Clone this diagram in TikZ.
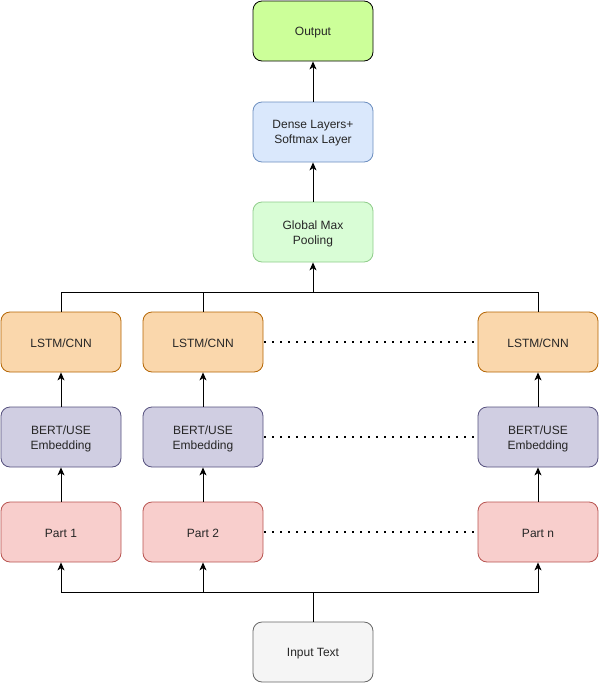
\documentclass[tikz,border=0pt]{standalone}
\usepackage{fontspec}
\setmainfont{Liberation Sans}
\usetikzlibrary{arrows.meta}
\definecolor{outF}{HTML}{CCFF99}
\definecolor{denseF}{HTML}{DAE8FC}\definecolor{denseD}{HTML}{6C8EBF}
\definecolor{poolF}{HTML}{D9FDD6}\definecolor{poolD}{HTML}{8FCC8A}
\definecolor{lstmF}{HTML}{FAD7AC}\definecolor{lstmD}{HTML}{B46504}
\definecolor{bertF}{HTML}{D0CEE2}\definecolor{bertD}{HTML}{56517E}
\definecolor{partF}{HTML}{F8CECC}\definecolor{partD}{HTML}{B85450}
\definecolor{inF}{HTML}{F5F5F5}\definecolor{inD}{HTML}{666666}
\begin{document}
\begin{tikzpicture}[x=1pt,y=-1pt,
  tl/.style={yshift=-1.5pt, align=center, inner sep=0pt, text=black!85,
    font=\fontsize{12pt}{15pt}\selectfont},
  box/.style={rounded corners=9pt, minimum width=120pt, minimum height=60pt,
    inner sep=0pt, line width=0.8pt},
  outbox/.style={box, fill=outF, draw=black},
  densebox/.style={box, fill=denseF, draw=denseD},
  poolbox/.style={box, fill=poolF, draw=poolD},
  lstmbox/.style={box, fill=lstmF, draw=lstmD},
  bertbox/.style={box, fill=bertF, draw=bertD},
  partbox/.style={box, fill=partF, draw=partD},
  inbox/.style={box, fill=inF, draw=inD},
  arr/.style={line width=0.9pt, -{Stealth[length=8pt,width=7pt,inset=2.2pt]}},
  ln/.style={line width=0.9pt},
  dots/.style={line width=2pt, dash pattern=on 2pt off 6pt}]
\useasboundingbox (0,0) rectangle (599,683);

\node[outbox, label={[tl]center:Output}]   (out)   at (313,31)  {};
\node[densebox, label={[tl]center:Dense Layers+\\Softmax Layer}] (dense) at (313,132) {};
\node[poolbox, label={[tl]center:Global Max\\Pooling}]  (pool)  at (313,232) {};

\node[lstmbox, label={[tl]center:LSTM/CNN}] (l1) at (61,342)  {};
\node[lstmbox, label={[tl]center:LSTM/CNN}] (l2) at (203,342) {};
\node[lstmbox, label={[tl]center:LSTM/CNN}] (l3) at (538,342) {};

\node[bertbox, label={[tl]center:BERT/USE\\Embedding}] (b1) at (61,437)  {};
\node[bertbox, label={[tl]center:BERT/USE\\Embedding}] (b2) at (203,437) {};
\node[bertbox, label={[tl]center:BERT/USE\\Embedding}] (b3) at (538,437) {};

\node[partbox, label={[tl]center:Part 1}] (p1) at (61,532)  {};
\node[partbox, label={[tl]center:Part 2}] (p2) at (203,532) {};
\node[partbox, label={[tl]center:Part n}] (p3) at (538,532) {};

\node[inbox, label={[tl]center:Input Text}] (in) at (313,652) {};

\coordinate (topbus) at (313,292);
\coordinate (botbus) at (313,592);

\draw[arr] (dense) -- (out);
\draw[arr] (pool) -- (dense);

\draw[ln] (l1.north) |- (topbus);
\draw[ln] (l2.north) |- (topbus);
\draw[ln] (l3.north) |- (topbus);
\draw[arr] (topbus) -- (pool.south);

\draw[arr] (b1) -- (l1);
\draw[arr] (b2) -- (l2);
\draw[arr] (b3) -- (l3);
\draw[arr] (p1) -- (b1);
\draw[arr] (p2) -- (b2);
\draw[arr] (p3) -- (b3);

\draw[ln] (in.north) -- (botbus);
\draw[arr] (botbus) -| (p1.south);
\draw[arr] (botbus) -| (p2.south);
\draw[arr] (botbus) -| (p3.south);

\draw[dots] ([xshift=1pt]l2.east) -- ([xshift=-1pt]l3.west);
\draw[dots] ([xshift=1pt]b2.east) -- ([xshift=-1pt]b3.west);
\draw[dots] ([xshift=1pt]p2.east) -- ([xshift=-1pt]p3.west);
\end{tikzpicture}
\end{document}
